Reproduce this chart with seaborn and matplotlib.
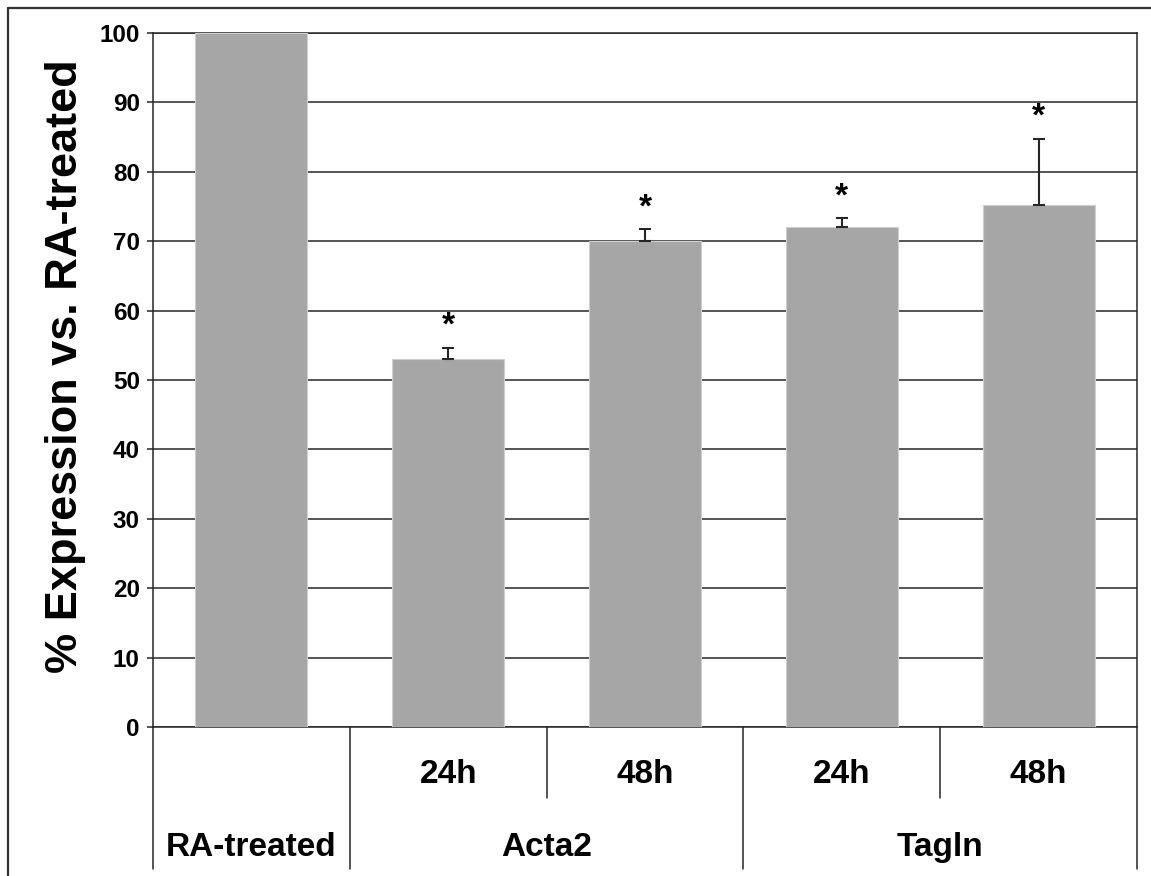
import numpy as np
import pandas as pd
import seaborn as sns
import matplotlib.pyplot as plt
from matplotlib.lines import Line2D
from matplotlib.transforms import blended_transform_factory

# Relative expression data (% of RA-treated control)
conditions = ["RA-treated", "Acta2 24h", "Acta2 48h", "Tagln 24h", "Tagln 48h"]
expression = [100.0, 53.0, 70.0, 72.0, 75.2]
error_upper = [0.0, 1.6, 1.7, 1.3, 9.5]
significant = [False, True, True, True, True]
time_labels = ["", "24h", "48h", "24h", "48h"]
gene_labels = ["RA-treated", "Acta2", "Acta2", "Tagln", "Tagln"]
y_ticks = list(range(0, 101, 10))

sns.set_style("white")
plt.rcParams["font.family"] = ["Liberation Sans", "DejaVu Sans"]
plt.rcParams["font.weight"] = "bold"
plt.rcParams["text.color"] = "black"
plt.rcParams["axes.labelcolor"] = "black"
plt.rcParams["ytick.labelcolor"] = "black"

W, H = 1151, 876
fig = plt.figure(figsize=(W / 100, H / 100), dpi=100)
ax = fig.add_axes([153 / W, 1 - 727 / H, 984 / W, 694 / H])

ink = "#262626"
bar_color = "#A6A6A6"

df = pd.DataFrame({"condition": conditions, "expression": expression})
sns.barplot(data=df, x="condition", y="expression", order=conditions,
            color=bar_color, saturation=1, width=0.57, errorbar=None,
            edgecolor="#CFCFCF", linewidth=0.8, ax=ax, zorder=3)

# one-sided (upper) error bars
x_pos = np.arange(len(conditions))
err = np.array(error_upper)
vals = np.array(expression)
has_err = err > 0
ax.errorbar(x_pos[has_err], vals[has_err],
            yerr=[np.zeros(has_err.sum()), err[has_err]],
            fmt="none", ecolor=ink, elinewidth=1.5, capsize=4, capthick=1.5,
            zorder=4)

# significance markers
for i, (v, e, sig) in enumerate(zip(expression, error_upper, significant)):
    if sig:
        ax.annotate("*", (i, v + e), xytext=(0, 9.5), textcoords="offset points",
                    ha="center", va="baseline", fontsize=24, fontweight="bold",
                    color="black", zorder=5)

ax.set_xlim(-0.5, len(conditions) - 0.5)
ax.set_ylim(0, 100)
ax.set_yticks(y_ticks)
ax.yaxis.grid(True, color=ink, linewidth=1.1)
ax.xaxis.grid(False)
ax.set_axisbelow(True)
for s in ax.spines.values():
    s.set_visible(True)
    s.set_color(ink)
    s.set_linewidth(1.1)

ax.tick_params(axis="y", left=True, direction="out", length=4.5, width=1.1,
               color=ink, pad=5, labelsize=17.5, labelcolor="black")
ax.tick_params(axis="x", bottom=False, labelbottom=False, length=0)
for lbl in ax.get_yticklabels():
    lbl.set_fontweight("bold")
ax.set_xlabel("")
ax.set_ylabel("% Expression vs. RA-treated", fontsize=32.5, fontweight="bold",
              color="black")
ax.yaxis.set_label_coords(-0.068, 0.52)

# two-level category table below the axis
trans = blended_transform_factory(ax.transData, ax.transAxes)
n = len(conditions)
for b in range(n + 1):
    left = gene_labels[b - 1] if b > 0 else None
    right = gene_labels[b] if b < n else None
    depth = 0.2046 if left != right else 0.1023
    ax.plot([b - 0.5, b - 0.5], [0, -depth], transform=trans, clip_on=False,
            color=ink, linewidth=1.1)

for i, t in enumerate(time_labels):
    if t:
        ax.text(i, -0.069, t, transform=trans, ha="center", va="center",
                fontsize=24, fontweight="bold", color="black")

groups = []
for i, g in enumerate(gene_labels):
    if groups and groups[-1][0] == g:
        groups[-1][2] = i
    else:
        groups.append([g, i, i])
for g, a, b in groups:
    ax.text((a + b) / 2, -0.174, g, transform=trans, ha="center", va="center",
            fontsize=24, fontweight="bold", color="black")

# outer frame
fx, fy = 8 / W, 1 - 8 / H
fig.add_artist(Line2D([fx, fx], [0, fy], color="#333333", linewidth=1.6))
fig.add_artist(Line2D([fx, 1], [fy, fy], color="#333333", linewidth=1.6))

fig.savefig("out.png", dpi=100)
